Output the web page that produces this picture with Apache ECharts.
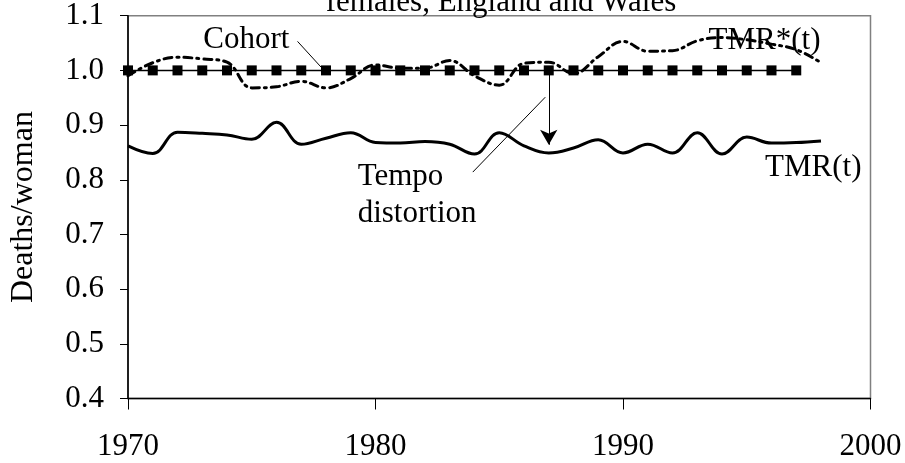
<!DOCTYPE html>
<html>
<head>
<meta charset="utf-8">
<script src="https://cdn.jsdelivr.net/npm/echarts@6/dist/echarts.min.js"></script>
<style>
  html, body { margin: 0; padding: 0; background: #fff; }
  #chart { width: 905px; height: 463px; }
</style>
</head>
<body>
<div id="chart"></div>
<script>
const YEARS = [1970, 1971, 1972, 1973, 1974, 1975, 1976, 1977, 1978, 1979,
               1980, 1981, 1982, 1983, 1984, 1985, 1986, 1987, 1988, 1989,
               1990, 1991, 1992, 1993, 1994, 1995, 1996, 1997, 1998];

const TMR = [0.862, 0.848, 0.887, 0.885, 0.882, 0.874, 0.905, 0.865, 0.876, 0.886,
             0.868, 0.867, 0.870, 0.865, 0.847, 0.886, 0.862, 0.849, 0.858, 0.873,
             0.849, 0.865, 0.849, 0.886, 0.847, 0.878, 0.867, 0.868, 0.871];

const TMR_STAR = [0.990, 1.014, 1.024, 1.021, 1.015, 0.968, 0.970, 0.980, 0.968, 0.985,
                  1.010, 1.004, 1.004, 1.018, 0.990, 0.973, 1.013, 1.015, 0.994, 1.025,
                  1.053, 1.035, 1.036, 1.054, 1.060, 1.056, 1.048, 1.038, 1.014];

const COHORT_YEARS = [1970, 1971, 1972, 1973, 1974, 1975, 1976, 1977, 1978, 1979,
                      1980, 1981, 1982, 1983, 1984, 1985, 1986, 1987, 1988, 1989,
                      1990, 1991, 1992, 1993, 1994, 1995, 1996, 1997];
const COHORT = [1.0, 1.0, 1.0, 1.0, 1.0, 1.0, 1.0, 1.0, 1.0, 1.0,
                1.0, 1.0, 1.0, 1.0, 1.0, 1.0, 1.0, 1.0, 1.0, 1.0,
                1.0, 1.0, 1.0, 1.0, 1.0, 1.0, 1.0, 1.0];

// annotation texts (data coords)
const LABELS = [
    { name: 'Cohort', coord: [1974.78, 1.055], pos: 'inside' },
    { name: 'TMR*(t)', coord: [1995.72, 1.054], pos: 'inside' },
    { name: 'TMR(t)', coord: [1997.69, 0.822], pos: 'inside' },
    { name: 'Tempo\ndistortion', coord: [1979.28, 0.772], pos: 'right' }
];
// leader lines + arrow (data coords)
const COHORT_LEADER = [[1976.85, 1.053], [1977.8, 1.006]];
const TEMPO_LEADER = [[1983.93, 0.814], [1986.86, 0.951]];
const ARROW = [[1987, 1.0], [1987, 0.864]];

const FONT = '"Liberation Serif", "Times New Roman", serif';
const chart = echarts.init(document.getElementById('chart'));

chart.setOption({
    animation: false,
    title: {
        text: 'females, England and Wales',
        left: 496, top: -18, textAlign: 'center',
        textStyle: { fontFamily: FONT, fontSize: 31, fontWeight: 'normal', color: '#000' }
    },
    grid: {
        left: 122.5, right: 34.5, top: 15.7, bottom: 64.5,
        show: true, borderColor: '#808080', borderWidth: 1.5, backgroundColor: 'transparent'
    },
    xAxis: {
        type: 'value', min: 1970, max: 2000, interval: 10,
        axisLine: { lineStyle: { color: '#000', width: 1.3 } },
        axisTick: { inside: false, length: 11, lineStyle: { color: '#000' } },
        axisLabel: { margin: 33, color: '#000', fontFamily: FONT, fontSize: 31,
                     formatter: v => String(v) },
        splitLine: { show: false }
    },
    yAxis: {
        type: 'value', min: 0.4, max: 1.1, interval: 0.1,
        name: 'Deaths/woman', nameLocation: 'middle', nameGap: 88, nameRotate: 90,
        nameTextStyle: { fontFamily: FONT, fontSize: 32, color: '#000' },
        axisLine: { lineStyle: { color: '#000', width: 1.6 } },
        axisTick: { inside: false, length: 8, lineStyle: { color: '#000' } },
        axisLabel: { margin: 24, color: '#000', fontFamily: FONT, fontSize: 31,
                     formatter: v => v.toFixed(1) },
        splitLine: { show: false }
    },
    series: [
        {
            name: 'TMR', type: 'line', smooth: 0.4, symbol: 'none',
            lineStyle: { color: '#000', width: 3 },
            data: YEARS.map((y, i) => [y, TMR[i]]),
            z: 3
        },
        {
            name: 'TMR*', type: 'line', smooth: 0.4, symbol: 'none',
            lineStyle: { color: '#000', width: 3, type: [8, 5, 2, 5], cap: 'round' },
            data: YEARS.map((y, i) => [y, TMR_STAR[i]]),
            z: 3
        },
        {
            name: 'Cohort', type: 'line', symbol: 'rect', symbolSize: 10,
            lineStyle: { color: '#000', width: 1.5 },
            itemStyle: { color: '#000' },
            data: COHORT_YEARS.map((y, i) => [y, COHORT[i]]),
            z: 4,
            markLine: {
                silent: true, animation: false,
                symbol: ['none', 'none'],
                label: { show: false },
                lineStyle: { color: '#000', width: 1, type: 'solid' },
                data: [
                    [{ coord: COHORT_LEADER[0] }, { coord: COHORT_LEADER[1] }],
                    [{ coord: TEMPO_LEADER[0] }, { coord: TEMPO_LEADER[1] }],
                    [{ coord: ARROW[0], symbol: 'none' },
                     { coord: ARROW[1], symbol: 'arrow', symbolSize: [13, 15] }]
                ]
            },
            markPoint: {
                silent: true, animation: false,
                symbol: 'circle', symbolSize: 0,
                data: LABELS.map(l => ({
                    name: l.name, coord: l.coord,
                    label: {
                        show: true, position: l.pos, distance: 0,
                        formatter: '{b}', color: '#000',
                        fontFamily: FONT, fontSize: 31, lineHeight: 37,
                        align: l.pos === 'right' ? 'left' : 'center'
                    }
                }))
            }
        }
    ]
});
</script>
</body>
</html>
